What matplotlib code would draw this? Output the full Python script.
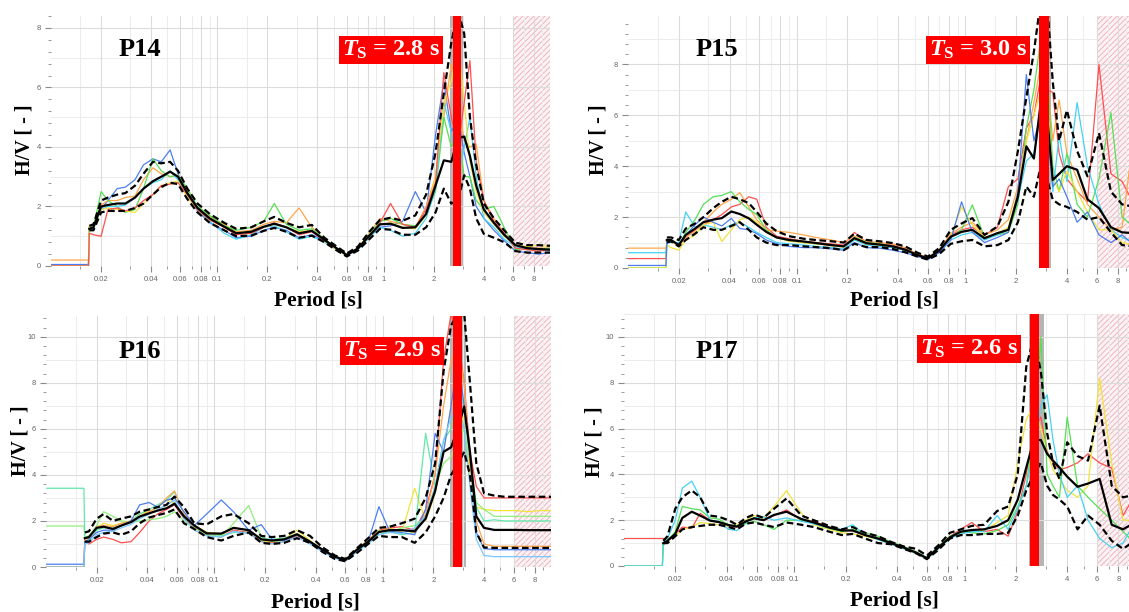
import numpy as np
import matplotlib
matplotlib.use('Agg')
import matplotlib.pyplot as plt
from matplotlib.ticker import FixedLocator, NullFormatter, MultipleLocator

plt.rcParams['font.family'] = ['Liberation Serif', 'DejaVu Serif']
plt.rcParams['mathtext.fontset'] = 'custom'
plt.rcParams['mathtext.rm'] = 'Liberation Serif:bold'
plt.rcParams['mathtext.it'] = 'Liberation Serif:italic:bold'
plt.rcParams['hatch.linewidth'] = 0.7

# ---- data ----------------------------------------------------------------
periods = [0.017, 0.018, 0.020, 0.022, 0.025, 0.028, 0.032, 0.036, 0.041, 0.046,
           0.052, 0.058, 0.066, 0.076, 0.09, 0.11, 0.13, 0.16, 0.19, 0.22,
           0.26, 0.31, 0.37, 0.44, 0.52, 0.60, 0.70, 0.82, 0.95, 1.1,
           1.3, 1.55, 1.8, 2.05, 2.3, 2.55, 2.8, 3.05, 3.3, 3.6,
           4.0, 4.6, 5.3, 6.2, 7.3, 8.5, 10.0]
flat_periods = [0.01, 0.0168]

x_ticks = [0.02, 0.04, 0.06, 0.08, 0.1, 0.2, 0.4, 0.6, 0.8, 1, 2, 4, 6, 8]
x_ticklabels = ['0.02', '0.04', '0.06', '0.08', '0.1', '0.2', '0.4', '0.6', '0.8',
                '1', '2', '4', '6', '8']

# P14
p14_mean = [1.25, 1.3, 2.0, 2.05, 2.1, 2.1, 2.3, 2.6, 2.85, 3.0, 3.17, 3.0, 2.45, 1.95, 1.6, 1.32,
            1.1, 1.15, 1.32, 1.42, 1.3, 1.1, 1.18, 0.88, 0.6, 0.37, 0.59, 1.02, 1.4, 1.42, 1.28,
            1.3, 1.75, 2.7, 3.55, 3.5, 4.3, 4.35, 3.7, 2.7, 1.9, 1.45, 1.05, 0.7, 0.6, 0.57, 0.55]
p14_upper = [1.35, 1.4, 2.2, 2.3, 2.4, 2.45, 2.7, 3.1, 3.5, 3.45, 3.5, 3.2, 2.6, 2.1, 1.75, 1.45,
             1.25, 1.3, 1.5, 1.65, 1.45, 1.3, 1.38, 0.95, 0.66, 0.42, 0.65, 1.15, 1.55, 1.62, 1.52,
             1.7, 2.4, 3.8, 5.8, 7.5, 8.6, 7.8, 5.0, 3.4, 2.1, 1.6, 1.2, 0.78, 0.7, 0.7, 0.68]
p14_lower = [1.2, 1.2, 1.8, 1.85, 1.85, 1.85, 1.95, 2.1, 2.4, 2.65, 2.8, 2.75, 2.25, 1.8, 1.45, 1.2,
             1.0, 1.02, 1.18, 1.28, 1.15, 0.95, 1.02, 0.8, 0.53, 0.32, 0.52, 0.9, 1.25, 1.22, 1.05,
             1.05, 1.3, 1.8, 2.6, 2.1, 2.2, 3.05, 2.6, 1.6, 1.08, 0.95, 0.8, 0.5, 0.45, 0.45, 0.45]
p14_blue = [1.3, 1.35, 1.9, 2.2, 2.6, 2.65, 2.9, 3.4, 3.6, 3.5, 3.9, 3.1, 2.4, 1.85, 1.45, 1.2,
            0.95, 1.0, 1.2, 1.3, 1.2, 0.95, 1.05, 0.85, 0.6, 0.35, 0.55, 1.0, 1.3, 1.35, 1.5,
            2.5, 1.8, 4.4, 6.2, 4.5, 5.0, 3.8, 3.0, 2.0, 1.6, 1.2, 0.85, 0.5, 0.45, 0.4, 0.45]
p14_orange = [1.35, 1.4, 2.05, 2.2, 2.2, 2.3, 2.35, 2.9, 3.3, 3.1, 3.0, 3.05, 2.5, 2.0, 1.65, 1.4,
              1.15, 1.2, 1.4, 1.5, 1.45, 1.95, 1.3, 0.9, 0.6, 0.38, 0.6, 1.1, 1.6, 1.5, 1.4,
              1.3, 2.0, 3.0, 5.0, 6.8, 5.5, 4.2, 4.0, 4.1, 2.2, 1.6, 1.1, 0.7, 0.6, 0.6, 0.6]
p14_green = [1.3, 1.3, 2.5, 2.2, 2.0, 1.8, 1.9, 2.6, 3.6, 3.2, 3.0, 3.05, 2.6, 2.0, 1.7, 1.35,
             1.2, 1.3, 1.5, 2.1, 1.4, 1.2, 1.25, 0.9, 0.6, 0.38, 0.6, 1.05, 1.5, 1.6, 1.4,
             1.35, 1.7, 2.5, 5.0, 4.0, 4.5, 3.0, 3.0, 2.2, 1.9, 2.0, 1.3, 0.55, 0.6, 0.55, 0.6]
p14_cyan = [1.2, 1.25, 1.9, 2.0, 2.0, 2.05, 2.3, 2.6, 2.8, 2.9, 3.2, 2.9, 2.4, 1.9, 1.5, 1.1,
            0.9, 1.05, 1.3, 1.35, 1.15, 0.9, 1.0, 0.8, 0.55, 0.35, 0.55, 0.95, 1.3, 1.2, 1.0,
            1.1, 1.6, 2.6, 5.5, 4.5, 3.0, 4.0, 5.0, 3.0, 1.6, 1.3, 0.9, 0.65, 0.55, 0.55, 0.5]
p14_yellow = [1.3, 1.3, 1.9, 1.95, 1.9, 1.85, 1.8, 2.1, 2.4, 2.7, 2.8, 2.85, 2.3, 1.9, 1.55, 1.3,
              1.1, 1.15, 1.3, 1.4, 1.3, 1.15, 1.2, 0.85, 0.55, 0.35, 0.6, 1.05, 1.4, 1.45, 1.3,
              1.25, 1.7, 3.0, 5.5, 6.2, 7.5, 5.5, 3.5, 2.5, 1.8, 1.4, 1.0, 0.7, 0.65, 0.7, 0.65]
p14_red = [1.1, 1.05, 1.0, 1.9, 1.95, 1.85, 1.95, 2.2, 2.4, 2.7, 2.75, 2.8, 2.4, 1.9, 1.55, 1.3,
           1.05, 1.1, 1.3, 1.45, 1.3, 1.05, 1.15, 0.85, 0.6, 0.36, 0.58, 1.0, 1.45, 2.1, 1.4,
           1.3, 1.9, 2.8, 6.5, 5.0, 4.0, 5.5, 6.9, 3.5, 2.2, 1.5, 1.1, 0.6, 0.55, 0.5, 0.55]
p14_start = [0.05, 0.2, 0.0, 0.0, 0.0, 0.0]

# P15
p15_mean = [1.1, 1.1, 0.9, 1.3, 1.55, 1.8, 1.9, 1.96, 2.22, 2.12, 1.95, 1.7, 1.42, 1.2, 1.1, 1.04,
            0.98, 0.9, 0.85, 1.17, 0.97, 0.92, 0.85, 0.72, 0.51, 0.38, 0.68, 1.23, 1.42, 1.5, 1.17,
            1.37, 1.5, 2.8, 4.78, 4.3, 6.5, 6.0, 3.46, 3.7, 4.0, 3.86, 2.7, 2.35, 1.6, 1.4, 1.37]
p15_upper = [1.2, 1.2, 1.1, 1.55, 1.75, 2.0, 2.35, 2.6, 2.8, 2.7, 2.55, 2.2, 1.75, 1.45, 1.25, 1.15,
             1.1, 1.05, 1.0, 1.35, 1.1, 1.05, 0.98, 0.85, 0.6, 0.45, 0.78, 1.5, 1.75, 1.96, 1.3,
             1.63, 2.6, 4.6, 6.7, 8.5, 10.5, 10.5, 7.3, 5.0, 6.2, 4.6, 3.6, 5.3, 3.0, 2.5, 2.4]
p15_lower = [1.0, 1.05, 0.85, 1.1, 1.35, 1.6, 1.5, 1.5, 1.65, 1.8, 1.5, 1.2, 1.0, 0.9, 0.9, 0.85,
             0.82, 0.78, 0.7, 0.95, 0.82, 0.82, 0.75, 0.62, 0.45, 0.33, 0.55, 0.95, 1.05, 1.1, 0.85,
             0.9, 1.1, 1.8, 3.2, 2.8, 4.0, 3.5, 2.68, 2.5, 2.4, 2.2, 1.9, 2.0, 1.4, 0.9, 0.85]
p15_red = [1.1, 1.05, 0.95, 1.2, 1.5, 1.7, 1.9, 2.1, 2.4, 2.5, 2.8, 2.7, 1.6, 1.25, 1.15, 1.05,
           1.0, 0.95, 0.9, 1.4, 1.0, 0.95, 0.9, 0.75, 0.55, 0.4, 0.72, 1.3, 1.5, 1.6, 1.3,
           1.6, 3.2, 3.5, 5.5, 6.0, 7.5, 7.0, 6.9, 4.5, 3.5, 3.0, 2.6, 8.0, 3.7, 3.4, 2.5]
p15_orange = [1.0, 1.05, 0.85, 1.2, 1.45, 1.8, 2.2, 2.5, 2.7, 2.96, 2.4, 1.9, 1.5, 1.45, 1.4, 1.3,
              1.2, 1.1, 1.0, 1.25, 1.05, 1.0, 0.95, 0.8, 0.55, 0.4, 0.7, 1.35, 1.6, 1.8, 1.3,
              1.5, 1.9, 3.2, 5.0, 6.5, 8.0, 7.5, 5.0, 6.6, 4.5, 3.5, 2.5, 2.0, 1.5, 1.6, 5.3]
p15_green = [1.05, 1.1, 0.9, 1.4, 1.9, 2.5, 2.8, 2.85, 3.0, 2.6, 2.3, 2.1, 1.5, 1.2, 1.1, 1.0,
             0.95, 0.9, 0.85, 1.2, 1.0, 0.95, 0.85, 0.7, 0.5, 0.38, 0.7, 1.2, 1.5, 2.48, 1.2,
             1.3, 1.4, 2.5, 5.5, 7.0, 9.0, 8.0, 4.0, 3.0, 4.5, 2.5, 2.0, 3.5, 6.1, 2.0, 1.6]
p15_cyan = [1.0, 1.0, 1.0, 2.2, 1.6, 1.7, 1.6, 1.5, 1.7, 1.8, 1.6, 1.4, 1.2, 1.0, 0.95, 0.9,
            0.85, 0.8, 0.75, 1.1, 0.9, 0.85, 0.8, 0.7, 0.5, 0.36, 0.65, 1.1, 1.3, 1.4, 1.1,
            1.3, 1.5, 2.7, 4.2, 4.5, 6.0, 5.5, 3.0, 5.2, 3.4, 6.5, 4.0, 2.5, 1.5, 1.2, 1.0]
p15_yellow = [0.9, 0.8, 0.7, 1.1, 1.3, 1.7, 1.8, 1.04, 1.5, 1.9, 2.0, 1.8, 1.4, 1.2, 1.05, 1.0,
              0.95, 0.88, 0.82, 1.15, 0.95, 0.9, 0.85, 0.72, 0.52, 0.38, 0.7, 1.25, 2.4, 1.7, 1.2,
              1.35, 1.6, 3.0, 5.0, 6.0, 7.0, 6.5, 3.5, 3.0, 3.8, 3.0, 2.2, 1.5, 1.5, 1.0, 0.9]
p15_blue = [1.05, 1.1, 0.9, 1.3, 1.7, 2.0, 1.8, 1.65, 1.95, 1.55, 1.5, 1.35, 1.1, 0.95, 0.85, 0.8,
            0.8, 0.75, 0.7, 1.0, 0.8, 0.78, 0.7, 0.6, 0.45, 0.33, 0.6, 1.1, 2.6, 1.4, 1.0,
            1.2, 1.4, 3.0, 7.6, 5.0, 6.0, 5.5, 3.2, 3.5, 2.8, 1.8, 2.2, 1.3, 1.0, 1.3, 0.9]
p15_start = [0.37, 0.78, 0.0, 0.6, 0.0, 0.1]

# P16
p16_mean = [1.25, 1.3, 1.7, 1.75, 1.65, 1.8, 1.95, 2.19, 2.33, 2.45, 2.55, 2.75, 2.2, 1.8, 1.46, 1.45,
            1.7, 1.6, 1.2, 1.15, 1.2, 1.42, 1.1, 0.75, 0.45, 0.3, 0.74, 1.1, 1.52, 1.6, 1.6,
            1.55, 2.1, 3.3, 5.0, 5.2, 6.0, 6.97, 5.0, 2.2, 1.7, 1.61, 1.61, 1.61, 1.6, 1.6, 1.6]
p16_upper = [1.5, 1.55, 2.1, 2.3, 2.0, 2.1, 2.2, 2.4, 2.5, 2.6, 2.7, 3.06, 2.6, 1.9, 1.85, 2.2,
             2.3, 1.9, 1.35, 1.3, 1.35, 1.6, 1.35, 0.85, 0.5, 0.35, 0.8, 1.25, 1.7, 1.75, 1.9,
             2.1, 3.0, 4.5, 8.5, 10.5, 11.0, 11.0, 8.0, 4.5, 3.2, 3.1, 3.05, 3.05, 3.05, 3.05, 3.05]
p16_lower = [1.1, 1.1, 1.3, 1.45, 1.5, 1.4, 1.55, 1.9, 2.15, 2.25, 2.35, 2.5, 1.9, 1.65, 1.3, 1.15,
             1.35, 1.5, 1.05, 1.0, 1.05, 1.25, 1.05, 0.65, 0.35, 0.25, 0.6, 1.0, 1.35, 1.3, 1.3,
             1.05, 1.5, 2.2, 3.0, 4.0, 4.5, 5.0, 4.0, 1.5, 0.85, 0.83, 0.83, 0.83, 0.83, 0.83, 0.83]
p16_red = [1.1, 1.0, 1.2, 1.3, 1.2, 1.05, 1.1, 1.5, 2.0, 2.3, 2.5, 2.7, 2.1, 1.7, 1.4, 1.3,
           1.6, 1.5, 1.1, 1.05, 1.1, 1.35, 1.05, 0.7, 0.4, 0.28, 0.7, 1.15, 1.6, 1.7, 1.75,
           1.6, 2.5, 4.0, 9.0, 11.0, 10.0, 8.0, 5.0, 3.5, 3.0, 3.0, 3.0, 3.0, 3.0, 3.0, 3.0]
p16_yellow = [1.2, 1.3, 1.7, 1.9, 1.8, 1.9, 2.0, 2.3, 2.4, 2.6, 2.9, 2.8, 2.2, 1.8, 1.5, 1.4,
              1.7, 1.6, 1.15, 1.1, 1.2, 1.6, 1.15, 0.75, 0.45, 0.3, 0.75, 1.1, 1.5, 1.7, 1.5,
              3.42, 2.0, 3.2, 5.0, 7.0, 8.0, 6.0, 4.0, 2.6, 2.5, 2.45, 2.45, 2.45, 2.4, 2.45, 2.45]
p16_green = [1.3, 1.35, 1.8, 2.4, 2.2, 2.0, 1.95, 2.0, 2.05, 2.1, 2.2, 2.4, 2.0, 1.7, 1.4, 1.3,
             1.9, 2.67, 1.3, 1.1, 1.15, 1.4, 1.1, 0.75, 0.45, 0.3, 0.75, 1.15, 1.6, 1.5, 1.7,
             1.8, 2.2, 3.5, 4.5, 4.8, 5.5, 6.0, 4.5, 2.8, 2.5, 2.2, 2.2, 2.2, 2.2, 2.2, 2.2]
p16_mint = [1.0, 1.1, 1.6, 1.7, 1.7, 1.8, 2.0, 2.3, 2.5, 2.7, 2.9, 3.27, 2.3, 1.8, 1.5, 1.35,
            1.5, 1.5, 1.25, 1.2, 1.25, 1.45, 1.1, 0.75, 0.45, 0.3, 0.72, 1.05, 1.4, 1.55, 1.4,
            1.5, 5.8, 3.5, 5.5, 6.0, 8.0, 7.0, 4.5, 2.6, 2.0, 2.05, 2.0, 2.0, 2.0, 2.0, 2.0]
p16_orange = [1.2, 1.25, 1.75, 1.8, 1.75, 1.9, 2.0, 2.2, 2.4, 2.6, 3.0, 3.3, 2.3, 1.8, 1.5, 1.45,
              1.7, 1.6, 1.2, 1.15, 1.2, 1.45, 1.1, 0.75, 0.45, 0.3, 0.75, 1.2, 1.55, 1.65, 1.6,
              1.5, 2.3, 4.0, 7.0, 9.0, 9.5, 8.0, 4.5, 2.0, 1.0, 0.9, 0.9, 0.9, 0.9, 0.9, 0.9]
p16_blue = [1.1, 1.2, 1.5, 1.6, 1.6, 1.8, 2.0, 2.7, 2.8, 2.6, 2.9, 3.0, 2.4, 1.8, 2.3, 2.91,
            2.4, 1.6, 1.84, 1.2, 1.15, 1.4, 1.05, 0.7, 0.4, 0.28, 0.7, 1.1, 2.62, 1.55, 1.5,
            1.4, 2.5, 5.8, 5.0, 7.0, 9.0, 7.0, 5.0, 1.5, 0.8, 0.75, 0.75, 0.75, 0.75, 0.75, 0.75]
p16_lightblue = [1.0, 1.05, 1.4, 1.5, 1.55, 1.7, 1.85, 2.1, 2.3, 2.5, 2.7, 2.9, 2.1, 1.6, 1.35, 1.3,
                 1.55, 1.45, 1.1, 1.0, 1.1, 1.3, 1.0, 0.65, 0.38, 0.25, 0.65, 1.0, 1.4, 1.5, 1.45,
                 1.7, 2.2, 3.5, 5.5, 6.5, 7.0, 6.0, 3.5, 1.2, 0.5, 0.45, 0.45, 0.45, 0.45, 0.45, 0.45]
p16_start = [0.0, 0.0, 1.78, 3.42, 0.0, 0.12, 0.0]

# P17
p17_mean = [1.0, 1.1, 1.4, 2.1, 2.37, 2.2, 1.98, 1.92, 1.79, 1.72, 1.95, 2.08, 2.0, 2.23, 2.37, 2.05,
            1.9, 1.68, 1.55, 1.55, 1.35, 1.2, 1.0, 0.8, 0.58, 0.34, 0.8, 1.25, 1.5, 1.57, 1.6,
            1.75, 2.0, 2.9, 4.3, 5.5, 5.5, 4.9, 4.6, 4.3, 3.9, 3.46, 3.6, 3.8, 1.8, 1.6, 1.9]
p17_upper = [1.1, 1.3, 2.5, 3.0, 3.3, 3.0, 2.2, 2.15, 2.0, 1.8, 2.1, 2.25, 2.1, 2.5, 2.95, 2.2,
             2.0, 1.75, 1.6, 1.7, 1.45, 1.3, 1.05, 0.85, 0.75, 0.45, 0.9, 1.45, 1.6, 1.75, 1.8,
             2.4, 2.6, 4.0, 8.7, 10.0, 8.5, 5.8, 4.5, 3.8, 5.4, 4.8, 4.6, 7.0, 3.5, 3.0, 3.1]
p17_lower = [1.0, 1.0, 1.3, 1.6, 1.7, 1.75, 1.8, 1.8, 1.7, 1.6, 1.85, 1.9, 1.8, 1.7, 1.9, 1.8,
             1.7, 1.5, 1.35, 1.4, 1.2, 1.0, 0.95, 0.75, 0.55, 0.3, 0.7, 1.2, 1.35, 1.35, 1.4,
             1.4, 1.45, 2.2, 3.3, 4.0, 4.5, 3.5, 3.1, 2.9, 2.6, 1.6, 2.2, 1.8, 1.1, 0.75, 1.1]
p17_red = [1.2, 1.15, 1.4, 1.7, 1.65, 2.3, 2.0, 1.9, 1.75, 1.7, 1.95, 2.1, 2.0, 2.2, 2.45, 2.0,
           1.95, 1.7, 1.55, 1.55, 1.35, 1.2, 1.0, 0.8, 0.6, 0.34, 0.85, 1.3, 1.6, 1.9, 1.5,
           1.6, 1.3, 2.4, 4.0, 6.0, 6.5, 5.0, 4.5, 4.2, 4.3, 4.5, 4.9, 4.5, 4.27, 2.2, 3.1]
p17_yellow = [1.0, 1.1, 1.3, 1.6, 1.7, 1.9, 1.85, 1.8, 1.75, 1.8, 2.0, 2.2, 2.1, 2.6, 3.29, 2.3,
              1.8, 1.6, 1.45, 1.4, 1.3, 1.15, 1.0, 0.8, 0.55, 0.33, 0.8, 1.2, 1.45, 1.5, 1.55,
              1.9, 2.2, 4.5, 6.4, 7.0, 6.0, 5.0, 4.2, 3.8, 3.3, 3.0, 3.5, 8.2, 4.5, 2.0, 2.0]
p17_green = [0.9, 1.1, 1.5, 2.6, 2.5, 2.45, 2.1, 2.05, 1.8, 1.75, 1.85, 1.95, 1.8, 1.6, 2.0, 2.0,
             1.85, 1.65, 1.5, 1.6, 1.45, 1.3, 1.05, 0.85, 0.62, 0.35, 0.85, 1.3, 1.5, 1.45, 1.4,
             1.55, 1.8, 2.6, 3.5, 6.0, 10.0, 4.0, 3.5, 3.0, 6.5, 3.5, 3.0, 2.5, 2.0, 1.5, 1.0]
p17_cyan = [1.0, 1.2, 2.0, 3.4, 3.7, 3.0, 2.0, 1.95, 1.6, 1.55, 1.9, 2.1, 2.15, 2.0, 2.1, 1.95,
            1.85, 1.65, 1.6, 1.8, 1.35, 1.15, 0.95, 0.75, 0.55, 0.3, 0.75, 1.2, 1.4, 1.5, 1.5,
            2.2, 1.6, 2.5, 3.5, 5.0, 7.0, 7.47, 5.5, 4.0, 3.0, 3.5, 2.0, 1.2, 0.8, 1.0, 1.93]
p17_start = [1.2, 0.0, 0.0, 0.0]

# peak bands (std of T0 in grey, picked T_S in red)
p14_grey, p14_band = (2.52, 3.05), (2.6, 2.93)
p15_grey, p15_band = (2.72, 3.22), (2.75, 3.14)
p16_grey, p16_band = (2.52, 3.13), (2.63, 2.94)
p17_grey, p17_band = (2.38, 2.91), (2.43, 2.75)

BLUE, ORANGE, GREEN, CYAN = '#4d7ef0', '#ffa64a', '#55e055', '#45d2f2'
YELLOW, RED, MINT, LBLUE = '#f2e23a', '#ff4f4f', '#5fe8a8', '#78c8ff'

panels = [
    dict(name='P14', ts='2.8', pos=[51, 16, 550, 266], ymax=8.4, yt=[0, 2, 4, 6, 8],
         mean=p14_mean, up=p14_upper, lo=p14_lower,
         wins=[p14_blue, p14_orange, p14_green, p14_cyan, p14_yellow, p14_red],
         cols=[BLUE, ORANGE, GREEN, CYAN, YELLOW, RED], start=p14_start,
         grey=p14_grey, band=p14_band, lab=(140, 50), box=(391, 50),
         xl=(318, 300), yl=(24, 140)),
    dict(name='P15', ts='3.0', pos=[628, 16, 1134, 268], ymax=9.9, yt=[0, 2, 4, 6, 8],
         mean=p15_mean, up=p15_upper, lo=p15_lower,
         wins=[p15_red, p15_orange, p15_green, p15_cyan, p15_yellow, p15_blue],
         cols=[RED, ORANGE, GREEN, CYAN, YELLOW, BLUE], start=p15_start,
         grey=p15_grey, band=p15_band, lab=(717, 50), box=(978, 50),
         xl=(894, 300), yl=(598, 140)),
    dict(name='P16', ts='2.9', pos=[46, 316, 551, 567], ymax=10.9, yt=[0, 2, 4, 6, 8, 10],
         mean=p16_mean, up=p16_upper, lo=p16_lower,
         wins=[p16_red, p16_yellow, p16_green, p16_mint, p16_orange, p16_blue, p16_lightblue],
         cols=[RED, YELLOW, '#8ef07a', MINT, ORANGE, BLUE, LBLUE], start=p16_start,
         grey=p16_grey, band=p16_band, lab=(140, 352), box=(392, 351),
         xl=(315, 602), yl=(20, 441)),
    dict(name='P17', ts='2.6', pos=[624, 314, 1135, 566], ymax=11.0, yt=[0, 2, 4, 6, 8, 10],
         mean=p17_mean, up=p17_upper, lo=p17_lower,
         wins=[p17_red, p17_yellow, p17_green, p17_cyan],
         cols=[RED, YELLOW, GREEN, CYAN], start=p17_start,
         grey=p17_grey, band=p17_band, lab=(717, 352), box=(969, 349),
         xl=(894, 601), yl=(595, 442)),
]

W, H = 1129, 612
fig = plt.figure(figsize=(W / 100, H / 100), dpi=100)

for p in panels:
    x0, y0, x1, y1 = p['pos']
    ax = fig.add_axes([x0 / W, 1 - y1 / H, (x1 - x0) / W, (y1 - y0) / H])
    ax.set_xscale('log')
    ax.set_xlim(0.01, 10)
    ax.set_ylim(0, p['ymax'])

    # grid
    ax.xaxis.set_major_locator(FixedLocator(x_ticks))
    ax.set_xticklabels(x_ticklabels)
    ax.xaxis.set_minor_locator(FixedLocator([0.015, 0.03, 0.05, 0.07, 0.09, 0.15, 0.3, 0.5,
                                             0.7, 0.9, 1.5, 3, 5, 7, 9]))
    ax.xaxis.set_minor_formatter(NullFormatter())
    ax.set_yticks(p['yt'])
    ax.yaxis.set_minor_locator(MultipleLocator(0.4))
    ax.grid(True, which='major', color='#dcdcdc', lw=0.8, zorder=0)
    ax.grid(True, which='minor', axis='x', color='#ececec', lw=0.7, zorder=0)
    for yy in range(1, int(p['ymax']) + 1, 2):
        ax.axhline(yy, color='#ececec', lw=0.7, zorder=0)
    for s in ax.spines.values():
        s.set_visible(False)
    ax.tick_params(which='both', direction='out', color='#8a8a8a', labelcolor='#666666',
                   labelsize=5.5, pad=3)
    ax.tick_params(which='major', length=4, width=0.8)
    ax.tick_params(which='minor', length=2.5, width=0.6)
    for t in ax.get_xticklabels() + ax.get_yticklabels():
        t.set_family('Liberation Sans')

    # unreliable long-period zone
    ax.axvspan(6, 10, facecolor='#fdf3f5', edgecolor='#ebb5c0', hatch='//////', lw=0, zorder=0.5)
    ax.axvline(6, color='#e8b8c2', lw=0.6, ls=':', zorder=0.6)
    ax.axvspan(*p['grey'], color='#b5b5b5', lw=0, zorder=0.7)

    for vals, st, c in zip(p['wins'], p['start'], p['cols']):
        ax.plot(flat_periods + periods, [st, st] + vals, color=c, lw=0.9, zorder=2)
    ax.plot(periods, p['up'], color='black', lw=1.6, ls=(0, (3, 1.6)), zorder=4)
    ax.plot(periods, p['lo'], color='black', lw=1.6, ls=(0, (3, 1.6)), zorder=4)
    ax.plot(periods, p['mean'], color='black', lw=1.6, zorder=4)

    ax.axvspan(*p['band'], color='#ff0000', lw=0, zorder=5)

    # labels
    fig.text(p['lab'][0] / W, 1 - p['lab'][1] / H, p['name'], fontsize=19,
             fontweight='bold', ha='center', va='center')
    fig.text(p['box'][0] / W, 1 - p['box'][1] / H,
             r'$\mathit{T}_{\mathrm{S}}$ = ' + p['ts'] + ' s', fontsize=17.5,
             fontweight='bold', color='white', ha='center', va='center', zorder=10,
             bbox=dict(boxstyle='square,pad=0.12', fc='#ff0000', ec='none'))
    fig.text(p['xl'][0] / W, 1 - p['xl'][1] / H, 'Period [s]', fontsize=15.5,
             fontweight='bold', ha='center', va='center')
    fig.text(p['yl'][0] / W, 1 - p['yl'][1] / H, 'H/V [ - ]', fontsize=14.5,
             fontweight='bold', ha='center', va='center', rotation=90)

fig.savefig('out.png', dpi=100)
